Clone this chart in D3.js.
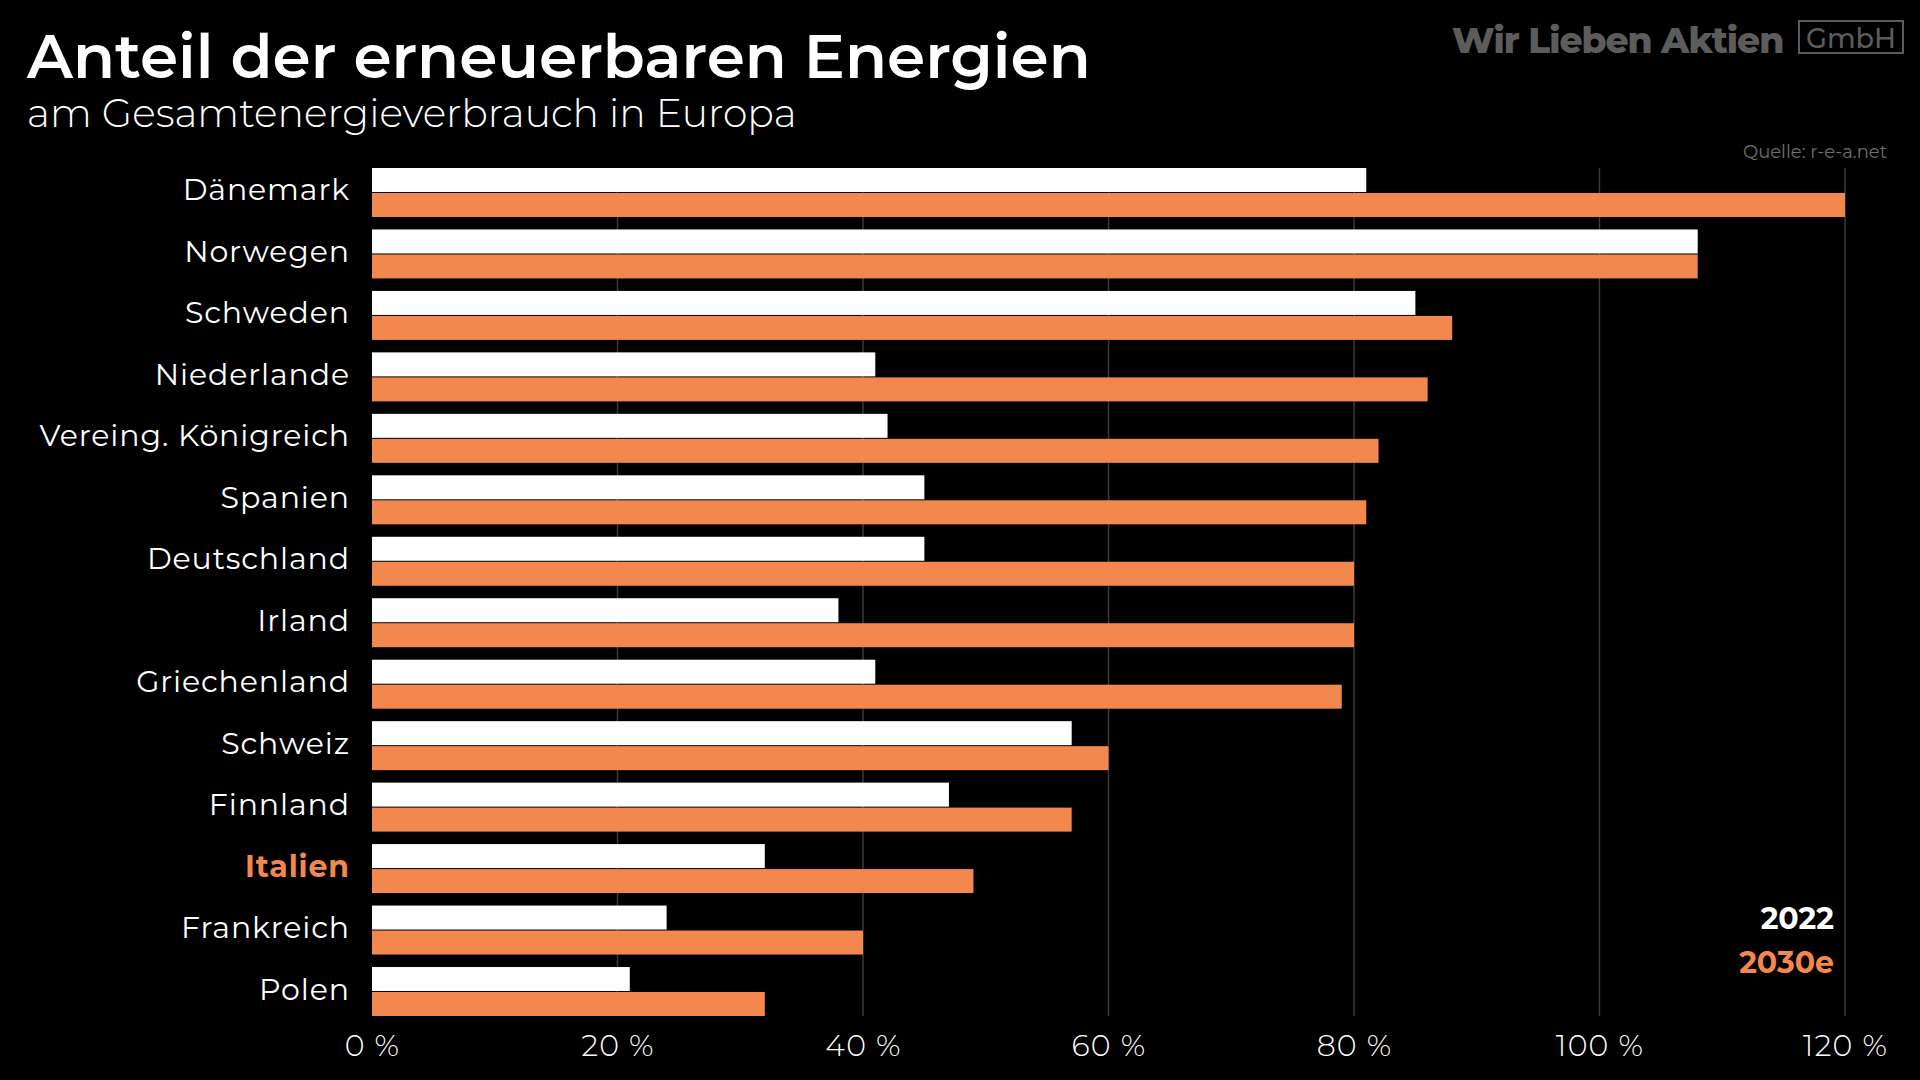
<!DOCTYPE html>
<html><head><meta charset="utf-8">
<script src="https://cdn.jsdelivr.net/npm/d3@7"></script>
<style>
html,body{margin:0;padding:0;background:#000;}
svg{display:block;}
text{font-family:"Montserrat","Inter","Noto Sans",sans-serif;}
</style></head>
<body>
<svg id="chart" width="1920" height="1080"></svg>
<script>
const countries = ["Dänemark","Norwegen","Schweden","Niederlande","Vereing. Königreich","Spanien","Deutschland","Irland","Griechenland","Schweiz","Finnland","Italien","Frankreich","Polen"];
const values2022 = [81,108,85,41,42,45,45,38,41,57,47,32,24,21];
const values2030 = [120,108,88,86,82,81,80,80,79,60,57,49,40,32];
const seriesNames = ["2022","2030e"];
const xTicks = [0,20,40,60,80,100,120];
const highlight = "Italien";

const W = 1920, H = 1080;
const ORANGE = "#F2884D";
const svg = d3.select("#chart");
svg.append("rect").attr("width",W).attr("height",H).attr("fill","#000");

const x = d3.scaleLinear().domain([0,120]).range([372,1845]);
const y = d3.scaleBand().domain(countries).range([168,1016]).paddingInner(0.203).paddingOuter(0);
const ys = d3.scaleBand().domain(seriesNames).range([0,y.bandwidth()]).paddingInner(0.04);

// gridlines
svg.append("g").selectAll("line").data(xTicks.filter(t=>t>0)).join("line")
  .attr("x1",d=>x(d)).attr("x2",d=>x(d))
  .attr("y1",168).attr("y2",1016)
  .attr("stroke","#3a3a3a").attr("stroke-width",1.5);

const rows = countries.map((c,i)=>({c, v:[values2022[i], values2030[i]]}));
const colors = {"2022":"#ffffff","2030e":ORANGE};

const g = svg.append("g");
rows.forEach(r=>{
  seriesNames.forEach((s,j)=>{
    g.append("rect")
      .attr("x",x(0))
      .attr("y",y(r.c)+ys(s))
      .attr("width",x(r.v[j])-x(0))
      .attr("height",ys.bandwidth())
      .attr("fill",colors[s]);
  });
});

// y axis labels
svg.append("g").selectAll("text").data(countries).join("text")
  .attr("x",350)
  .attr("y",d=>y(d)+y.bandwidth()/2-2.5)
  .attr("dy","0.35em")
  .attr("text-anchor","end")
  .attr("font-size",30)
  .attr("letter-spacing",0.9)
  .attr("font-weight",d=>d===highlight?700:400)
  .attr("fill",d=>d===highlight?ORANGE:"#fff")
  .text(d=>d);

// x axis
const xAxis = d3.axisBottom(x).tickValues(xTicks).tickFormat(d=>d+" %").tickSize(0).tickPadding(0);
const ax = svg.append("g").attr("transform","translate(0,1045)").call(xAxis);
ax.select(".domain").remove();
ax.selectAll("text").attr("dy","0.35em").attr("font-size",30).attr("font-weight",300)
  .attr("letter-spacing",1.2)
  .attr("fill","#fff").attr("font-family",'"Montserrat","Inter","Noto Sans",sans-serif');

// legend
const legend = svg.append("g");
seriesNames.forEach((s,i)=>{
  legend.append("text").attr("x",1834).attr("y",918+i*44).attr("dy","0.35em")
    .attr("text-anchor","end").attr("font-size",30).attr("font-weight",700)
    .attr("fill",colors[s]).text(s);
});

// title
function fit(sel, target){
  const w = sel.node().getComputedTextLength();
  const fs = parseFloat(sel.attr("font-size"));
  sel.attr("font-size", fs*target/w);
}
const t1 = svg.append("text").attr("x",27).attr("y",78).attr("font-size",64).attr("font-weight",600)
  .attr("fill","#fff").text("Anteil der erneuerbaren Energien");
fit(t1, 1064);
const t2 = svg.append("text").attr("x",27).attr("y",127).attr("font-size",40).attr("font-weight",300)
  .attr("fill","#fff").text("am Gesamtenergieverbrauch in Europa");
fit(t2, 770);

// logo
const logo = svg.append("text").attr("x",1452).attr("y",53).attr("font-size",40).attr("font-weight",800)
  .attr("fill","#5c5c5c").attr("letter-spacing",-1).text("Wir Lieben Aktien");
fit(logo, 333);
svg.append("rect").attr("x",1799).attr("y",21).attr("width",104).attr("height",32)
  .attr("fill","none").attr("stroke","#5c5c5c").attr("stroke-width",2);
const gm = svg.append("text").attr("x",1851).attr("y",48).attr("text-anchor","middle")
  .attr("font-size",28).attr("font-weight",500).attr("fill","#5c5c5c").text("GmbH");
fit(gm, 90);

svg.append("text").attr("x",1887).attr("y",158).attr("text-anchor","end").attr("font-size",18)
  .attr("fill","#6e6e6e").text("Quelle: r-e-a.net");
</script>
</body></html>
